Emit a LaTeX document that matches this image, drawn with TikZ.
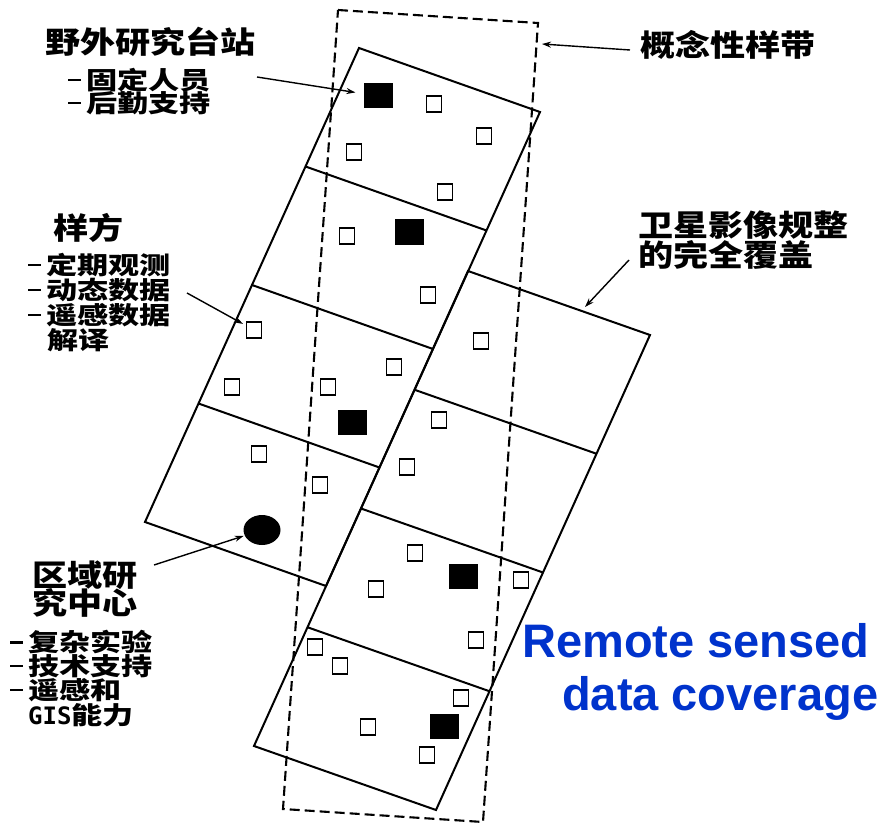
\documentclass[tikz,border=0pt]{standalone}
\usepackage{fontspec}
\usetikzlibrary{arrows.meta,shapes.geometric}
\newfontfamily\cjkT{Noto Sans CJK SC}[FakeStretch=1.17]
\newfontfamily\cjkS{Noto Sans CJK SC}[FakeStretch=1.27]
\newfontfamily\monoB{DejaVu Sans Mono}
\newfontfamily\arialB{Liberation Sans}
\definecolor{rsblue}{RGB}{0,51,204}
\newcommand\dsh{\rule[8pt]{13pt}{2.4pt}\hspace{5pt}}
\begin{document}
\begin{tikzpicture}[x=1pt,y=-1pt,
  ttl/.style={anchor=west, inner sep=0pt, font=\cjkT\bfseries\fontsize{30}{30}\selectfont},
  sub/.style={anchor=west, inner sep=0pt, font=\cjkS\bfseries\fontsize{24.5}{24.5}\selectfont},
  eng/.style={anchor=base west, inner sep=0pt, text=rsblue, font=\arialB\bfseries\fontsize{47}{47}\selectfont},
  strip/.style={draw, line width=2pt, line join=miter},
  osq/.style={draw, line width=1.8pt, minimum width=15pt, minimum height=16pt, inner sep=0pt},
  bsq/.style={fill=black, minimum width=29pt, minimum height=25pt, inner sep=0pt},
  arr/.style={line width=1.4pt, -{Stealth[length=9pt,width=6pt]}},
  band/.style={draw, dash pattern=on 10pt off 5pt, line width=2.1pt}]
\useasboundingbox (0,0) rectangle (887,824);
\fill[white] (0,0) rectangle (887,824);
% left strip
\coordinate (L00) at (359,48);   \coordinate (L01) at (540,112);
\coordinate (L10) at (305.5,166.5); \coordinate (L11) at (486.5,230.5);
\coordinate (L20) at (252,285);  \coordinate (L21) at (433,349);
\coordinate (L30) at (198.5,403.5); \coordinate (L31) at (379.5,467.5);
\coordinate (L40) at (145,522);  \coordinate (L41) at (326,586);
\draw[strip] (L00) -- (L01) -- (L41) -- (L40) -- cycle;
\draw[strip] (L10) -- (L11) (L20) -- (L21) (L30) -- (L31);
% right strip
\coordinate (R00) at (468,271);  \coordinate (R01) at (650,335);
\coordinate (R10) at (414.5,389.75); \coordinate (R11) at (596.5,453.75);
\coordinate (R20) at (361,508.5); \coordinate (R21) at (543,572.5);
\coordinate (R30) at (307.5,627.25); \coordinate (R31) at (489.5,691.25);
\coordinate (R40) at (254,746);  \coordinate (R41) at (436,810);
\draw[strip] (R00) -- (R01) -- (R41) -- (R40) -- cycle;
\draw[strip] (R10) -- (R11) (R20) -- (R21) (R30) -- (R31);
% open squares
\foreach \x/\y [count=\i] in {434/104,484/136,354/152,445/192,347/236,428/295,254/330,232/387,328/387,394/367,259/454,320/485,481/341,439/420,407/467,415/553,376/589,521/580,476/640,315/647,340/666,461/698,368/727,427/755}
  \node[osq] (s\i) at (\x,\y) {};
% black squares
\foreach \x/\y [count=\i] in {378/96,409/232,352/422,463/576,444/726}
  \node[bsq] (b\i) at (\x,\y) {};
% regional centre
\node[ellipse, fill=black, minimum width=37pt, minimum height=30pt, inner sep=0pt] (ctr) at (262,530) {};
% conceptual band
\draw[band] (338,10) -- (538,23) -- (483,822) -- (283,809) -- cycle;
% labels
\node[ttl] (t1) at (45,42) {野外研究台站};
\node[sub] (t1a) at (68,80) {\dsh 固定人员};
\node[sub] (t1b) at (68,103) {\dsh 后勤支持};
\node[ttl] (t2) at (53,228) {样方};
\node[sub] (t2a) at (28,265) {\dsh 定期观测};
\node[sub] (t2b) at (28,290) {\dsh 动态数据};
\node[sub] (t2c) at (28,315) {\dsh 遥感数据};
\node[sub] (t2d) at (47,340) {解译};
\node[ttl] (t3) at (32,575) {区域研};
\node[ttl] (t3b) at (32,603) {究中心};
\node[sub] (t3c) at (10,642) {\dsh 复杂实验};
\node[sub] (t3d) at (10,666) {\dsh 技术支持};
\node[sub] (t3e) at (10,690) {\dsh 遥感和};
\node[sub] (t3f) at (28,715) {{\monoB\bfseries\fontsize{24}{24}\selectfont GIS}能力};
\node[ttl] (t4) at (640,45) {概念性样带};
\node[ttl] (t5) at (638,225) {卫星影像规整};
\node[ttl] (t5b) at (638,255) {的完全覆盖};
\node[eng] (e1) at (522,657) {Remote sensed};
\node[eng] (e2) at (562,710) {data coverage};
% connectors
\coordinate (a1) at (257,77);
\coordinate (a2) at (187,293);
\coordinate (a3) at (154,565);
\coordinate (a4) at (629,260); \coordinate (a4e) at (585,307);
\coordinate (a5) at (630,50);  \coordinate (a5e) at (542,44);
\draw[arr, shorten >=8pt] (a1) -- (b1);
\draw[arr, shorten >=3pt] (a2) -- (s7);
\draw[arr, shorten >=1pt] (a3) -- (ctr);
\draw[arr] (a4) -- (a4e);
\draw[arr] (a5) -- (a5e);
\end{tikzpicture}
\end{document}
